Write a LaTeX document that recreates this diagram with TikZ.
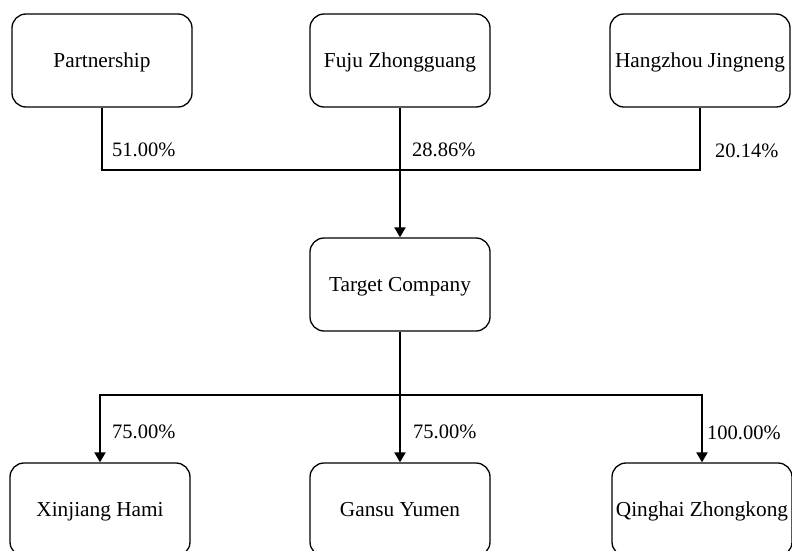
\documentclass[tikz,border=0pt]{standalone}
\usepackage{fontspec}
\setmainfont{Liberation Serif}
\usetikzlibrary{arrows.meta}
\begin{document}
\begin{tikzpicture}[x=1pt,y=-1pt,
  box/.style={draw, rounded corners=14pt, line width=1.3pt, minimum width=180pt, minimum height=93pt, inner sep=0pt, text height=15pt, text depth=1pt, font=\fontsize{21.3}{25}\selectfont, anchor=center},
  conn/.style={line width=2pt},
  arr/.style={conn, -{Triangle[length=10pt,width=11pt]}},
  pct/.style={font=\fontsize{20.5}{24}\selectfont, anchor=west, inner sep=0pt}]
\useasboundingbox (0,0) rectangle (792,551);
% top row
\node[box] (p) at (102,60.5) {Partnership};
\node[box] (f) at (400,60.5) {Fuju Zhongguang};
\node[box] (h) at (700,60.5) {Hangzhou Jingneng};
% middle
\node[box] (t) at (400,284.5) {Target Company};
% bottom row
\node[box] (x) at (100,509.5) {Xinjiang Hami};
\node[box] (g) at (400,509.5) {Gansu Yumen};
\node[box] (q) at (702,509.5) {Qinghai Zhongkong};
% junctions
\coordinate (jt) at (400,170);
\coordinate (jb) at (400,395);
% upper connectors
\draw[conn] (p.south) |- (jt);
\draw[conn] (h.south) |- (jt);
\draw[arr] (f.south) -- (t.north);
% lower connectors
\draw[conn] (t.south) -- (jb);
\draw[arr] (jb) -| (x.north);
\draw[arr] (jb) -- (g.north);
\draw[arr] (jb) -| (q.north);
% labels
\node[pct] (l1) at (112,150) {51.00\%};
\node[pct] (l2) at (412,150) {28.86\%};
\node[pct] (l3) at (715,151) {20.14\%};
\node[pct] (l4) at (112,432) {75.00\%};
\node[pct] (l5) at (413,432) {75.00\%};
\node[pct] (l6) at (707,433) {100.00\%};
\end{tikzpicture}
\end{document}
